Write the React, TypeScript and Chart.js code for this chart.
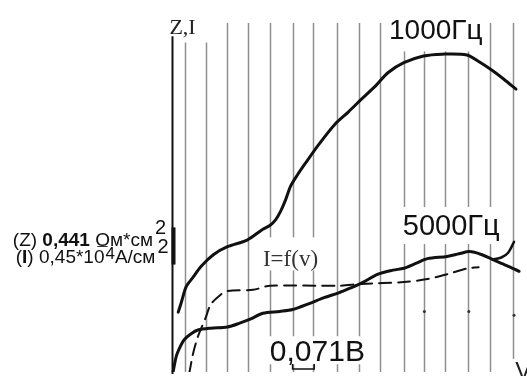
import React, { useEffect, useRef } from 'react';
import { Chart, registerables } from 'chart.js';

Chart.register(...registerables);

// x: grid divisions (1 division = 0,071 В), y: scale-bar units (1 unit = 0,441 Ом*см² / 0,45*10⁻⁴ A/см²)
const X_MIN = -7.7;
const X_MAX = 16.04;
const Y_MIN = 0;
const Y_MAX = 9.9;

const GRID_X = [0.59, 1.53, 2.48, 3.47, 4.46, 5.5, 6.44, 7.52, 8.56, 9.5, 10.59, 11.53, 12.48, 13.51, 14.55, 15.59];

// Z = f(V) at 1000 Гц
const Z1000_X = [0.27, 0.41, 0.63, 0.95, 1.31, 1.89, 2.52, 3.42, 4.14, 4.46, 4.73, 4.95, 5.18, 5.41, 5.72, 6.08, 6.71, 7.43, 8.06, 8.65, 9.32, 9.86, 10.59, 11.49, 12.34, 13.47, 14.05, 14.64, 15.18, 15.72];
const Z1000_Y = [1.61, 1.87, 2.29, 2.55, 2.84, 3.16, 3.37, 3.55, 3.84, 3.94, 4.1, 4.32, 4.63, 5.0, 5.3, 5.61, 6.13, 6.66, 7.0, 7.34, 7.71, 8.05, 8.32, 8.5, 8.55, 8.53, 8.34, 8.11, 7.87, 7.61];

// Z = f(V) at 5000 Гц
const Z5000_X = [0.02, 0.18, 0.36, 0.54, 0.86, 1.17, 1.76, 2.52, 3.11, 3.56, 4.14, 4.91, 5.5, 6.26, 6.94, 7.61, 8.15, 8.65, 9.41, 10.09, 10.59, 11.13, 11.67, 12.57, 13.11, 13.6, 14.14, 14.64, 15.27, 15.86];
const Z5000_Y = [-0.05, 0.42, 0.68, 0.87, 1.03, 1.13, 1.18, 1.21, 1.32, 1.42, 1.58, 1.63, 1.68, 1.84, 2.0, 2.13, 2.26, 2.39, 2.63, 2.74, 2.79, 2.92, 3.05, 3.11, 3.18, 3.24, 3.16, 3.03, 2.87, 2.71];
const Z5000_TAIL_X = [14.64, 15.05, 15.36, 15.63];
const Z5000_TAIL_Y = [3.03, 3.08, 3.21, 3.5];

// I = f(V)
const IV_X = [0.77, 0.95, 1.17, 1.53, 1.76, 2.21, 2.52, 3.69, 4.46, 7.61, 8.65, 10.59, 11.67, 12.57, 13.51, 14.01];
const IV_Y = [-0.05, 0.5, 0.95, 1.47, 1.82, 2.08, 2.18, 2.21, 2.32, 2.32, 2.37, 2.42, 2.5, 2.63, 2.79, 2.82];

// small marks on grid lines
const MARK_X = [11.53, 13.56, 15.63];
const MARK_Y = [1.63, 1.63, 1.53];

// scale bars
const Y_BAR = [2.89, 3.89];
const X_BAR = [5.5, 6.49];

const zip = (xs: number[], ys: number[]) => xs.map((x, i) => ({ x, y: ys[i] }));

const SANS = '"Liberation Sans", Arial, sans-serif';
const SERIF = '"Liberation Serif", "Times New Roman", serif';

type Part = { t: string; font?: string; dy?: number; dx?: number };
type Label = { x: number; y: number; font: string; color: string; parts: Part[]; box?: number[] };

const sketchPlugin = {
  id: 'sketch',
  beforeDatasetsDraw(chart: any, _a: any, opts: any) {
    const { ctx, scales } = chart;
    const xs = scales.x, ys = scales.y;
    ctx.save();
    ctx.strokeStyle = opts.gridColor;
    ctx.lineWidth = opts.gridWidth;
    for (const v of GRID_X) {
      const px = Math.round(xs.getPixelForValue(v)) + 0.5;
      ctx.beginPath();
      ctx.moveTo(px, ys.getPixelForValue(opts.gridTop));
      ctx.lineTo(px, ys.getPixelForValue(opts.gridBottom));
      ctx.stroke();
    }
    ctx.restore();
  },
  afterDatasetsDraw(chart: any, _a: any, opts: any) {
    const { ctx, scales } = chart;
    const xs = scales.x, ys = scales.y;
    ctx.save();
    ctx.textAlign = 'left';
    ctx.textBaseline = 'alphabetic';
    for (const lab of opts.labels as Label[]) {
      const left = xs.getPixelForValue(lab.x);
      const base = ys.getPixelForValue(lab.y);
      let w = 0;
      let asc = 0;
      for (const p of lab.parts) {
        ctx.font = p.font || lab.font;
        const m = ctx.measureText(p.t);
        w += m.width + (p.dx || 0);
        asc = Math.max(asc, m.actualBoundingBoxAscent + (p.dy || 0));
      }
      if (lab.box) {
        const [l, r, t, b] = lab.box;
        ctx.fillStyle = '#ffffff';
        ctx.fillRect(left - l, base - asc - t, w + l + r, asc + t + b);
      }
      ctx.fillStyle = lab.color;
      let cx = left;
      for (const p of lab.parts) {
        ctx.font = p.font || lab.font;
        cx += p.dx || 0;
        ctx.fillText(p.t, cx, base - (p.dy || 0));
        cx += ctx.measureText(p.t).width;
      }
    }
    // vertical axis
    const ax = Math.round(xs.getPixelForValue(0)) + 0.5;
    ctx.strokeStyle = '#111';
    ctx.lineWidth = 2;
    ctx.beginPath();
    ctx.moveTo(ax, ys.getPixelForValue(opts.axisTop));
    ctx.lineTo(ax, ys.getPixelForValue(Y_MIN) + 2);
    ctx.stroke();
    // scale bar on the axis
    ctx.lineWidth = 4;
    ctx.beginPath();
    ctx.moveTo(ax + 1, ys.getPixelForValue(Y_BAR[1]));
    ctx.lineTo(ax + 1, ys.getPixelForValue(Y_BAR[0]));
    ctx.stroke();
    // scale bracket under 0,071 В
    const bx0 = xs.getPixelForValue(X_BAR[0]);
    const bx1 = xs.getPixelForValue(X_BAR[1]);
    const by = ys.getPixelForValue(0.08);
    ctx.lineWidth = 1.5;
    ctx.beginPath();
    ctx.moveTo(bx0, by - 5);
    ctx.lineTo(bx0, by);
    ctx.lineTo(bx1, by);
    ctx.lineTo(bx1, by - 5);
    ctx.stroke();
    ctx.restore();
  },
};

export default function App() {
  const ref = useRef<HTMLCanvasElement>(null);

  useEffect(() => {
    if (!ref.current) return;
    const labels: Label[] = [
      { x: -0.135, y: 9.105, font: `22px ${SERIF}`, color: '#222', parts: [{ t: 'Z,I' }], box: [3, 14, 20, 9] },
      { x: 9.91, y: 8.947, font: `28px ${SANS}`, color: '#111', parts: [{ t: '1000Гц' }], box: [5, 3, 40, 12] },
      { x: 10.54, y: 3.684, font: `29px ${SANS}`, color: '#111', parts: [{ t: '5000Гц' }], box: [3, 2, 8, 9] },
      { x: 4.144, y: 2.842, font: `23px ${SERIF}`, color: '#333', parts: [{ t: 'I=f(v)' }], box: [2, 2, 12, 4] },
      { x: 4.46, y: 0.289, font: `30px ${SANS}`, color: '#111', parts: [{ t: '0,071В' }], box: [2, 3, 5, 3] },
      { x: 15.68, y: -0.184, font: `24px ${SANS}`, color: '#222', parts: [{ t: 'V' }], box: [4, 4, 3, 0] },
      {
        x: -7.297, y: 3.395, font: `19px ${SANS}`, color: '#111',
        parts: [{ t: '(Z) ' }, { t: '0,441', font: `bold 19px ${SANS}` }, { t: ' Ом*см' }, { t: '2', dy: 12, dx: 2, font: `20px ${SANS}` }],
      },
      {
        x: -7.162, y: 2.921, font: `19px ${SANS}`, color: '#111',
        parts: [{ t: '(' }, { t: 'I', font: `bold 19px ${SANS}` }, { t: ') 0,45*10' }, { t: '¯', dy: 3, dx: -7, font: `bold 18px ${SANS}` }, { t: '4', dy: 4, dx: -2, font: `17px ${SANS}` }, { t: 'A/см' }, { t: '2', dy: 10, dx: 2, font: `20px ${SANS}` }],
      },
    ];

    const chart = new Chart(ref.current, {
      type: 'line',
      data: {
        datasets: [
          { label: '1000Гц', data: zip(Z1000_X, Z1000_Y), borderColor: '#111', borderWidth: 3, tension: 0.3 },
          { label: '5000Гц', data: zip(Z5000_X, Z5000_Y), borderColor: '#111', borderWidth: 3, tension: 0.3 },
          { label: '5000Гц tail', data: zip(Z5000_TAIL_X, Z5000_TAIL_Y), borderColor: '#111', borderWidth: 2.5, tension: 0.3 },
          { label: 'I=f(v)', data: zip(IV_X, IV_Y), borderColor: '#111', borderWidth: 2, borderDash: [12, 7], tension: 0.3 },
          { label: 'marks', data: zip(MARK_X, MARK_Y), showLine: false, pointRadius: 1.5, pointBackgroundColor: '#333', pointBorderWidth: 0 },
        ] as any,
      },
      options: {
        animation: false,
        responsive: false,
        layout: { padding: 0 },
        elements: { point: { radius: 0 }, line: { fill: false, borderCapStyle: 'round', borderJoinStyle: 'round' } },
        scales: {
          x: { type: 'linear', min: X_MIN, max: X_MAX, display: false },
          y: { type: 'linear', min: Y_MIN, max: Y_MAX, display: false },
        },
        plugins: {
          legend: { display: false },
          tooltip: { enabled: false },
          sketch: {
            gridColor: '#8f8f8f',
            gridWidth: 1.5,
            gridTop: 9.39,
            gridBottom: Y_MIN,
            axisTop: 9.03,
            labels,
          },
        } as any,
      },
      plugins: [sketchPlugin as any],
    });
    return () => chart.destroy();
  }, []);

  return (
    <div style={{ position: 'absolute', left: 0, top: 0, width: 527, height: 376, background: '#fff' }}>
      <canvas ref={ref} width={527} height={376} style={{ display: 'block' }} />
    </div>
  );
}
